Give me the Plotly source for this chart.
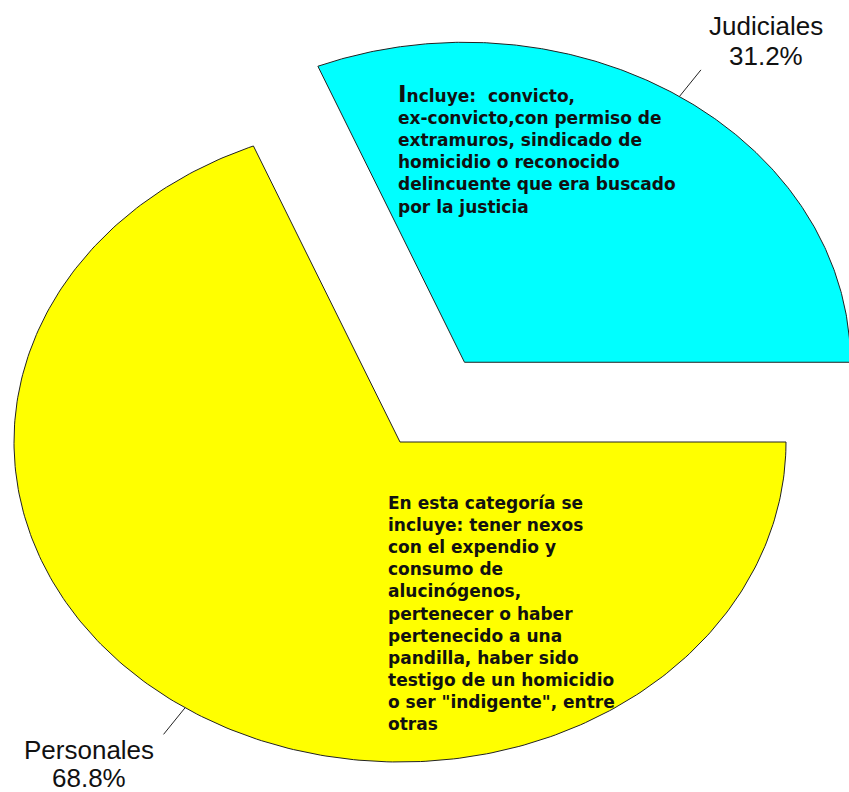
import numpy as np
import plotly.graph_objects as go

# ---- data ----
categories = ["Judiciales", "Personales"]
values = [31.2, 68.8]
colors = ["#00FFFF", "#FFFF00"]
pulls = [0.30, 0.0]
notes = [
    "<span style='font-size:23px'>I</span>ncluye:  convicto,<br>"
    "ex-convicto,con permiso de<br>"
    "extramuros, sindicado de<br>"
    "homicidio o reconocido<br>"
    "delincuente que era buscado<br>"
    "por la justicia",
    "En esta categoría se<br>"
    "incluye: tener nexos<br>"
    "con el expendio y<br>"
    "consumo de<br>"
    "alucinógenos,<br>"
    "pertenecer o haber<br>"
    "pertenecido a una<br>"
    "pandilla, haber sido<br>"
    "testigo de un homicidio<br>"
    "o ser \"indigente\", entre<br>"
    "otras",
]

W, H = 849, 792


def px(x):
    return x / W


def py(y):
    return 1 - y / H


fig = go.Figure()

total = sum(values)
start = 0.0
label_info = []
for cat, val, col, pull in zip(categories, values, colors, pulls):
    span = 360.0 * val / total
    a0, a1 = start, start + span
    mid = np.deg2rad((a0 + a1) / 2)
    cx, cy = pull * np.cos(mid), pull * np.sin(mid)
    th = np.deg2rad(np.linspace(a0, a1, 300))
    xs = np.concatenate([[cx], cx + np.cos(th), [cx]])
    ys = np.concatenate([[cy], cy + np.sin(th), [cy]])
    fig.add_trace(go.Scatter(
        x=xs, y=ys, mode="lines", fill="toself", fillcolor=col,
        line=dict(color="#222222", width=1), name=cat,
        hoverinfo="text", text=f"{cat}: {val/total*100:.1f}%",
    ))
    # leader line
    r0, r1 = 1.0, 1.10
    fig.add_trace(go.Scatter(
        x=[cx + r0 * np.cos(mid), cx + r1 * np.cos(mid)],
        y=[cy + r0 * np.sin(mid), cy + r1 * np.sin(mid)],
        mode="lines", line=dict(color="#222222", width=1),
        hoverinfo="skip",
    ))
    label_info.append((cat, val / total * 100,
                       cx + r1 * np.cos(mid), cy + r1 * np.sin(mid), np.cos(mid)))
    start = a1

label_font = dict(family="Liberation Sans, Arial, sans-serif", size=26, color="#111111")
for cat, pct, lx, ly, c in label_info:
    if c >= 0:
        xs_, name_dy, pct_dy = 65, 44, 14
    else:
        xs_, name_dy, pct_dy = -75, -16, -44
    fig.add_annotation(x=lx, y=ly, xref="x", yref="y", showarrow=False,
                       text=cat, font=label_font,
                       xanchor="center", yanchor="middle", xshift=xs_, yshift=name_dy)
    fig.add_annotation(x=lx, y=ly, xref="x", yref="y", showarrow=False,
                       text=f"{pct:.1f}%", font=label_font,
                       xanchor="center", yanchor="middle", xshift=xs_, yshift=pct_dy)

note_font = dict(family="DejaVu Sans, Verdana, sans-serif", size=17, color="#111111",
                 weight="bold")
fig.add_annotation(x=px(396), y=py(79), xref="paper", yref="paper", showarrow=False,
                   text=notes[0], font=note_font, align="left",
                   xanchor="left", yanchor="top")
fig.add_annotation(x=px(386), y=py(491), xref="paper", yref="paper", showarrow=False,
                   text=notes[1], font=note_font, align="left",
                   xanchor="left", yanchor="top")

# ellipse: 386 px horizontal radius, 320 px vertical radius, centre at (400, 442)
fig.update_xaxes(range=[(0 - 400) / 386, (W - 400) / 386], visible=False, fixedrange=True)
fig.update_yaxes(range=[(442 - H) / 320, 442 / 320], visible=False, fixedrange=True)
fig.update_layout(width=W, height=H, margin=dict(l=0, r=0, t=0, b=0),
                  plot_bgcolor="white", paper_bgcolor="white", showlegend=False)

fig.write_html(
    "out.html",
    config={"displayModeBar": False},
    post_script="document.body.style.margin='0';document.body.style.overflow='hidden';",
)
